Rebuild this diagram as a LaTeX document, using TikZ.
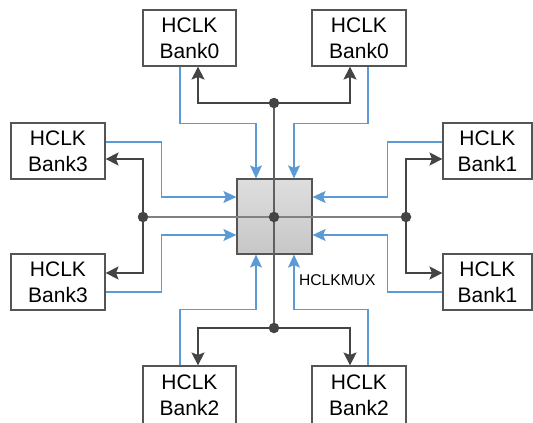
\documentclass[tikz,border=0pt]{standalone}
\usepackage{fontspec}
\setmainfont{Liberation Sans}
\usetikzlibrary{arrows.meta}
\definecolor{cblue}{HTML}{5B9BD5}
\definecolor{cdark}{HTML}{444444}
\definecolor{cgray}{HTML}{808080}
\definecolor{cbord}{HTML}{555555}
\tikzset{
  bank/.style={draw=cbord, line width=1.1pt, fill=white, minimum height=56pt, inner sep=0pt, align=center, font=\fontsize{21}{26}\selectfont},
  bluearr/.style={draw=cblue, line width=1.1pt, -{Stealth[length=13pt,width=12pt,inset=2.5pt]}},
  darkarr/.style={draw=cdark, line width=1.3pt, -{Stealth[length=13pt,width=13pt,inset=2.5pt]}},
  junct/.style={circle, fill=cdark, inner sep=0pt, minimum size=10.5pt},
}
\begin{document}
\begin{tikzpicture}[x=1pt,y=-1pt]
\useasboundingbox (0,0) rectangle (533,423);
% boxes
\node[bank, minimum width=93pt] (T1) at (189.5,38) {HCLK\\Bank0};
\node[bank, minimum width=94pt] (T2) at (359,38) {HCLK\\Bank0};
\node[bank, minimum width=94pt] (L1) at (58,151) {HCLK\\Bank3};
\node[bank, minimum width=94pt] (L2) at (58,282) {HCLK\\Bank3};
\node[bank, minimum width=89pt] (R1) at (487.5,151) {HCLK\\Bank1};
\node[bank, minimum width=89pt] (R2) at (487.5,282) {HCLK\\Bank1};
\node[bank, minimum width=93pt, minimum height=58pt] (B1) at (189.5,395) {HCLK\\Bank2};
\node[bank, minimum width=94pt, minimum height=58pt] (B2) at (359,395) {HCLK\\Bank2};
% mux
\node[draw=cbord, line width=1.2pt, top color=black!13, bottom color=black!22, minimum width=75pt, minimum height=75pt, inner sep=0pt] (mux) at (274.5,216.5) {};
\node[anchor=west, inner sep=0pt, font=\fontsize{15.6}{18}\selectfont] (lbl) at (299,280) {HCLKMUX};
% junctions
\coordinate (dT) at (274,103);
\coordinate (dB) at (274,328);
\coordinate (dL) at (143,217);
\coordinate (dR) at (406,217);
\coordinate (dC) at (274,217);
% trunk lines
\draw[cgray, line width=1.6pt] (dL) -- (dR);
\draw[cdark!85, line width=1.4pt] (dT) -- (dB);
% dark arrows
\draw[darkarr] (dT) -| ([xshift=8.5pt]T1.south);
\draw[darkarr] (dT) -| ([xshift=-9pt]T2.south);
\draw[darkarr] (dB) -| ([xshift=8.5pt]B1.north);
\draw[darkarr] (dB) -| ([xshift=-9pt]B2.north);
\draw[darkarr] (dL) |- ([yshift=-8pt]L1.east);
\draw[darkarr] (dL) |- ([yshift=9pt]L2.east);
\draw[darkarr] (dR) |- ([yshift=-8pt]R1.west);
\draw[darkarr] (dR) |- ([yshift=9pt]R2.west);
% blue arrows
\draw[bluearr] ([xshift=-9.5pt]T1.south) -- ++(0,57) -| ([xshift=-18.5pt]mux.north);
\draw[bluearr] ([xshift=9pt]T2.south) -- ++(0,57) -| ([xshift=19.5pt]mux.north);
\draw[bluearr] ([xshift=-9.5pt]B1.north) -- ++(0,-56) -| ([xshift=-18.5pt]mux.south);
\draw[bluearr] ([xshift=9pt]B2.north) -- ++(0,-56) -| ([xshift=19.5pt]mux.south);
\draw[bluearr] ([yshift=9pt]L1.east) -- ++(56,0) |- ([yshift=19.5pt]mux.west);
\draw[bluearr] ([yshift=-10pt]L2.east) -- ++(56,0) |- ([yshift=-18.5pt]mux.west);
\draw[bluearr] ([yshift=9pt]R1.west) -- ++(-55,0) |- ([yshift=19.5pt]mux.east);
\draw[bluearr] ([yshift=-10pt]R2.west) -- ++(-55,0) |- ([yshift=-18.5pt]mux.east);
% dots
\node[junct] (jT) at (dT) {};
\node[junct] (jB) at (dB) {};
\node[junct] (jL) at (dL) {};
\node[junct] (jR) at (dR) {};
\node[junct] (jC) at (dC) {};
\end{tikzpicture}
\end{document}
